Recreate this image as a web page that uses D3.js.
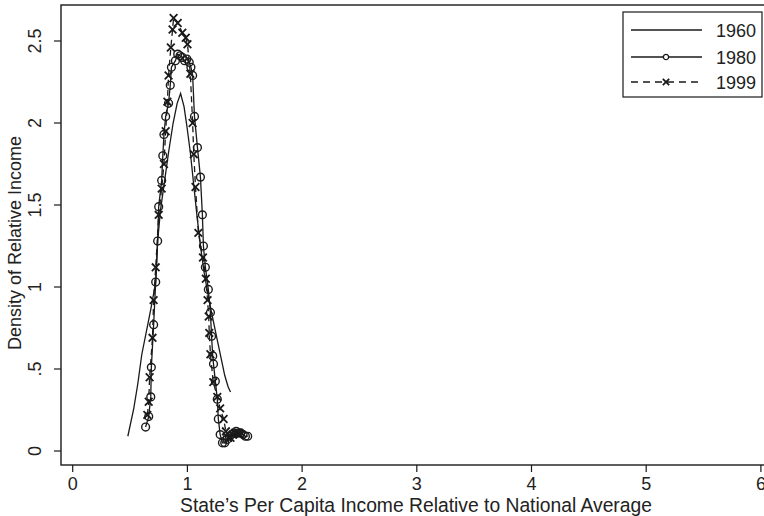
<!DOCTYPE html>
<html><head><meta charset="utf-8">
<script src="https://cdn.jsdelivr.net/npm/d3@7"></script>
<style>body{margin:0;background:#fff}svg{display:block}text{font-family:"Liberation Sans",Arial,sans-serif;fill:#222}</style>
</head><body><svg id="c" width="764" height="516"></svg>
<script>
const xTicks = [0,1,2,3,4,5,6];
const yTicks = [0,0.5,1,1.5,2,2.5];
const yTickLabels = ["0",".5","1","1.5","2","2.5"];
const seriesNames = ["1960","1980","1999"];

const x1960 = [0.485,0.537,0.572,0.607,0.65,0.685,0.71,0.728,0.745,0.77,0.80,0.84,0.88,0.915,0.945,0.975,1.00,1.03,1.06,1.09,1.12,1.15,1.18,1.21,1.24,1.27,1.30,1.33,1.36,1.38];
const y1960 = [0.09,0.26,0.41,0.59,0.74,0.864,0.96,1.03,1.28,1.47,1.62,1.82,2.0,2.12,2.18,2.1,1.98,1.82,1.62,1.42,1.24,1.09,0.97,0.86,0.76,0.66,0.56,0.46,0.39,0.36];

const x1980 = [0.64,0.667,0.685,0.69,0.71,0.728,0.745,0.754,0.78,0.79,0.80,0.815,0.84,0.855,0.865,0.90,0.92,0.94,0.96,0.98,1.00,1.02,1.035,1.05,1.066,1.092,1.118,1.135,1.144,1.161,1.187,1.205,1.215,1.225,1.232,1.248,1.265,1.274,1.29,1.31,1.33,1.35,1.37,1.39,1.41,1.43,1.45,1.47,1.49,1.51,1.53];
const y1980 = [0.146,0.21,0.33,0.51,0.77,1.03,1.28,1.49,1.65,1.80,1.93,2.04,2.12,2.23,2.34,2.38,2.42,2.41,2.40,2.38,2.39,2.37,2.34,2.29,2.04,1.85,1.67,1.44,1.25,1.12,0.985,0.845,0.70,0.58,0.53,0.426,0.316,0.195,0.10,0.05,0.05,0.07,0.09,0.10,0.11,0.12,0.11,0.11,0.10,0.09,0.09];

const x1999 = [0.655,0.667,0.675,0.70,0.71,0.728,0.754,0.78,0.80,0.815,0.83,0.84,0.86,0.875,0.884,0.92,0.96,0.99,1.005,1.03,1.05,1.06,1.075,1.10,1.14,1.165,1.18,1.19,1.195,1.205,1.23,1.265,1.29,1.32,1.34,1.36,1.38,1.40,1.42,1.44,1.46];
const y1999 = [0.22,0.30,0.45,0.69,0.92,1.12,1.44,1.60,1.75,1.95,2.13,2.29,2.46,2.57,2.64,2.61,2.55,2.52,2.48,2.30,2.00,1.81,1.61,1.33,1.18,1.05,0.92,0.82,0.72,0.59,0.42,0.33,0.26,0.195,0.12,0.08,0.08,0.10,0.11,0.11,0.10];

const svg = d3.select("#c");
const L = 61, T = 5, R = 770, B = 465;
const x = d3.scaleLinear().domain([0,6]).range([72.2,760.4]);
const y = d3.scaleLinear().domain([0,2.5]).range([451,41]);
const ink = "#1a1a1a";
const FONT = "Liberation Sans, Arial, sans-serif";

// frame
svg.append("rect").attr("x",L).attr("y",T).attr("width",R-L).attr("height",B-T)
  .attr("fill","none").attr("stroke",ink).attr("stroke-width",1.4);

// x axis
const xa = svg.append("g").attr("transform",`translate(0,${B})`)
  .call(d3.axisBottom(x).tickValues(xTicks).tickSize(7).tickPadding(0).tickFormat(d3.format("d")));
xa.select(".domain").remove();
xa.selectAll("line").attr("stroke",ink).attr("stroke-width",1.2);
xa.selectAll("text").attr("font-size",18).attr("fill","#222").style("font-family",FONT)
  .attr("dy",null).attr("y",24.5);

// y axis
const ya = svg.append("g").attr("transform",`translate(${L},0)`)
  .call(d3.axisLeft(y).tickValues(yTicks).tickSize(7).tickFormat((d,i)=>yTickLabels[i]));
ya.select(".domain").remove();
ya.selectAll(".tick").attr("transform",null);
ya.selectAll(".tick line").attr("stroke",ink).attr("stroke-width",1.2).attr("transform",d=>`translate(0,${y(d)})`);
ya.selectAll(".tick text").attr("font-size",18).attr("fill","#222").style("font-family",FONT)
  .attr("text-anchor","middle").attr("dy",null).attr("x",null).attr("y",null)
  .attr("transform",d=>`translate(-20,${y(d)}) rotate(-90)`);

// titles
svg.append("text").attr("x",416).attr("y",511.5).attr("text-anchor","middle").attr("font-size",19.3)
  .text("State\u2019s Per Capita Income Relative to National Average");
svg.append("text").attr("transform",`translate(21,${243}) rotate(-90)`).attr("text-anchor","middle").attr("font-size",18)
  .text("Density of Relative Income");

const line = d3.line().x(d=>x(d[0])).y(d=>y(d[1]));
const plot = svg.append("g");
const d60 = x1960.map((v,i)=>[v,y1960[i]]);
const d80 = x1980.map((v,i)=>[v,y1980[i]]);
const d99 = x1999.map((v,i)=>[v,y1999[i]]);

plot.append("path").datum(d60).attr("d",line).attr("fill","none").attr("stroke",ink).attr("stroke-width",1.3);
plot.append("path").datum(d80).attr("d",line).attr("fill","none").attr("stroke",ink).attr("stroke-width",1.3);
plot.append("path").datum(d99).attr("d",line).attr("fill","none").attr("stroke",ink).attr("stroke-width",1.3).attr("stroke-dasharray","6,4");

const circ = d3.symbol().type(d3.symbolCircle).size(48);
const cross = d3.symbol().type(d3.symbolTimes).size(40);
plot.selectAll(".m80").data(d80).join("path").attr("class","m80")
  .attr("d",circ).attr("transform",d=>`translate(${x(d[0])},${y(d[1])})`)
  .attr("fill","none").attr("stroke",ink).attr("stroke-width",1.4);
plot.selectAll(".m99").data(d99).join("path").attr("class","m99")
  .attr("d",cross).attr("transform",d=>`translate(${x(d[0])},${y(d[1])})`)
  .attr("fill","none").attr("stroke",ink).attr("stroke-width",1.8);

// legend
const lg = svg.append("g");
lg.append("rect").attr("x",623).attr("y",12).attr("width",139).attr("height",85)
  .attr("fill","#fff").attr("stroke",ink).attr("stroke-width",1.2);
const ly = [30,57,82];
seriesNames.forEach((n,i)=>{
  const l = lg.append("line").attr("x1",631).attr("x2",702).attr("y1",ly[i]).attr("y2",ly[i])
    .attr("stroke",ink).attr("stroke-width",1.3);
  if(i===2) l.attr("stroke-dasharray","7,5");
  if(i===1) lg.append("path").attr("d",d3.symbol().type(d3.symbolCircle).size(22)).attr("transform",`translate(666,${ly[i]})`).attr("fill","#fff").attr("stroke",ink).attr("stroke-width",1.4);
  if(i===2) lg.append("path").attr("d",d3.symbol().type(d3.symbolTimes).size(28)).attr("transform",`translate(666,${ly[i]})`).attr("fill","none").attr("stroke",ink).attr("stroke-width",1.8);
  lg.append("text").attr("x",716).attr("y",ly[i]+6.5).attr("font-size",18).text(n);
});
</script></body></html>
